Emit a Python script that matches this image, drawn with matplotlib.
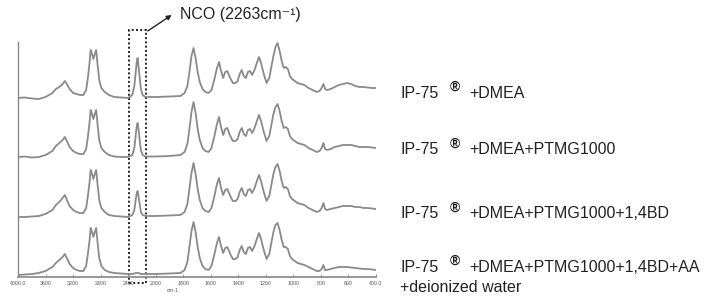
import numpy as np
import matplotlib
matplotlib.use('Agg')
import matplotlib.pyplot as plt
from matplotlib.patches import Rectangle

# wavenumbers (cm-1)
wavenumber = [4000, 3900, 3800, 3700, 3600, 3500, 3450, 3400, 3350, 3320,
              3290, 3250, 3200, 3150, 3100, 3050, 3010, 2985, 2960, 2945,
              2925, 2905, 2885, 2865, 2845, 2820, 2790, 2740, 2680, 2600,
              2500, 2400, 2340, 2310, 2290, 2275, 2263, 2250, 2235, 2215,
              2190, 2150, 2100, 2000, 1900, 1820, 1790, 1770, 1755, 1740,
              1725, 1710, 1695, 1680, 1660, 1640, 1615, 1595, 1575, 1555,
              1540, 1527, 1510, 1495, 1480, 1462, 1440, 1420, 1405, 1390,
              1375, 1360, 1345, 1330, 1315, 1300, 1285, 1265, 1250, 1235,
              1215, 1195, 1175, 1160, 1145, 1130, 1115, 1100, 1085, 1070,
              1055, 1040, 1025, 1010, 990, 970, 945, 920, 890, 860,
              830, 810, 795, 782, 770, 755, 730, 700, 670, 640,
              610, 580, 550, 520, 490, 460, 430, 400]

# absorbance of each sample (arbitrary units)
abs_dmea = [0, 0.5, -0.5, -1, 1, 5, 9, 11, 14, 17,
            14, 9, 5, 4, 3, 3, 8, 20, 36, 48,
            44, 39, 44, 48, 34, 18, 10, 6, 3, 1,
            0.5, 0, 3, 12, 26, 36, 40, 32, 22, 9,
            3, 1, 1, 1, 1.5, 2, 5, 12, 26, 42,
            50, 40, 26, 16, 9, 6, 5, 8, 18, 30,
            36, 28, 20, 26, 27, 21, 15, 15, 17, 24,
            28, 22, 20, 26, 27, 23, 27, 35, 41, 35,
            24, 15, 20, 31, 42, 51, 55, 47, 37, 30,
            31, 29, 22, 19, 17, 15, 14, 13, 10, 8,
            6, 7, 10, 14, 9, 8, 9, 11, 13, 14,
            15, 14, 12, 11, 11, 10.5, 10, 10]

abs_ptmg = [0, 0.5, -0.5, 0, 2, 6, 11, 14, 17, 20,
            16, 10, 6, 4, 3, 3, 8, 20, 35, 47,
            43, 38, 43, 47, 33, 17, 9, 5, 2, 0.5,
            0, 0, 2, 9, 22, 31, 34, 28, 18, 7,
            2, 0.5, 0.5, 0.5, 1, 2, 5, 13, 28, 45,
            55, 44, 28, 17, 9, 6, 5, 9, 20, 33,
            40, 31, 22, 28, 29, 22, 16, 16, 18, 25,
            29, 23, 21, 27, 28, 24, 28, 36, 42, 36,
            25, 16, 21, 32, 43, 50, 53, 46, 36, 29,
            30, 28, 21, 18, 16, 14, 13, 12, 9, 7,
            5, 6, 9, 14, 8, 7, 8, 10, 11, 12,
            12, 12, 11, 10, 10, 10, 9.5, 9]

abs_bd = [0, 0, 0.5, 1, 3, 7, 12, 15, 19, 22,
          17, 11, 7, 5, 4, 4, 9, 21, 35, 47,
          43, 38, 43, 47, 33, 17, 9, 5, 2, 1,
          0.5, 0, 2, 7, 17, 24, 26, 21, 14, 5,
          2, 1, 1, 1, 1.5, 2, 5, 13, 28, 44,
          54, 43, 28, 17, 9, 6, 5, 9, 20, 33,
          39, 30, 22, 27, 28, 22, 16, 16, 18, 25,
          29, 23, 21, 27, 28, 24, 28, 36, 42, 36,
          25, 16, 21, 32, 43, 50, 53, 46, 36, 29,
          30, 28, 21, 18, 16, 14, 13, 12, 9, 7,
          5, 6, 9, 14, 8, 7, 8, 9, 10, 11,
          11, 11, 10, 10, 9, 9, 8.5, 8]

abs_water = [0, 0.5, 1, 2, 4, 8, 12, 15, 18, 21,
             17, 11, 7, 5, 4, 4, 9, 21, 35, 47,
             43, 38, 43, 47, 33, 17, 9, 5, 3, 2,
             1.5, 1, 1, 1.5, 2, 2, 2, 2, 1.5, 1,
             1, 1, 1, 1, 1.5, 2, 5, 13, 28, 44,
             53, 43, 28, 17, 9, 6, 5, 9, 20, 32,
             38, 30, 22, 27, 28, 22, 16, 16, 18, 25,
             29, 23, 21, 27, 28, 24, 28, 36, 42, 36,
             25, 16, 21, 32, 43, 50, 52, 45, 35, 28,
             28, 26, 19, 16, 14, 12, 11, 10, 8, 6,
             4, 4, 6, 10, 5, 5, 6, 7, 8, 8,
             8, 7.5, 7, 6.5, 6, 6, 5.5, 5]

spectra = [abs_dmea, abs_ptmg, abs_bd, abs_water]
offsets = [177, 118, 58, 0]
labels = ['+DMEA', '+DMEA+PTMG1000', '+DMEA+PTMG1000+1,4BD',
          '+DMEA+PTMG1000+1,4BD+AA']
tick_values = [4000, 3600, 3200, 2800, 2400, 2000, 1800, 1600, 1400,
               1200, 1000, 800, 600, 400]
tick_labels = ['4000.0', '3600', '3200', '2800', '2400', '2000', '1800',
               '1600', '1400', '1200', '1000', '800', '600', '400.0']


# FTIR-style axis: half scale above 2000 cm-1
def fwd(v):
    v = np.asarray(v, dtype=float)
    return np.where(v >= 2000, (4000 - v) / 2.0, 1000 + (2000 - v))


plt.rcParams['font.family'] = ['Liberation Sans', 'DejaVu Sans']

fig = plt.figure(figsize=(7.08, 2.97), dpi=100)
ax = fig.add_axes([18 / 708, 20 / 297, 358 / 708, 235 / 297])

x = fwd(wavenumber)
for spec, off in zip(spectra, offsets):
    ax.plot(x, np.array(spec) + off, color='#8a8a8a', lw=1.3)

ax.set_xlim(0, 2600)
ax.set_ylim(-2, 233)
ax.set_xticks(fwd(tick_values))
ax.set_xticklabels(tick_labels)
ax.tick_params(axis='x', direction='in', length=2, width=0.6, colors='#888888',
               labelsize=3.8, labelcolor='#555555', pad=3)
ax.set_yticks([])
for s in ['top', 'right']:
    ax.spines[s].set_visible(False)
ax.spines['left'].set_color('#888888')
ax.spines['bottom'].set_color('#888888')
ax.spines['left'].set_linewidth(1.0)
ax.spines['bottom'].set_linewidth(1.2)
ax.text(fwd(1880), -15, 'cm-1', fontsize=3.8, color='#555555', ha='center',
        va='center', clip_on=False)

# dotted box around NCO peak
bx0, bx1 = fwd(2391), fwd(2145)
box = Rectangle((bx0, -8), bx1 - bx0, 253, fill=False, ls=(0, (1, 1.2)),
                lw=1.4, ec='#222222', clip_on=False)
ax.add_patch(box)
ax.annotate('', xy=(fwd(1884), 260), xytext=(fwd(2116), 244),
            arrowprops=dict(arrowstyle='-|>', color='#222222', lw=1.0,
                            mutation_scale=7, shrinkA=0, shrinkB=0),
            annotation_clip=False)
ax.text(fwd(1825), 260, 'NCO (2263cm\u207b\u00b9)', fontsize=11.5,
        color='#222222', ha='left', va='center', clip_on=False)

# sample labels
label_y = [93, 150, 214, 267]
for lab, py in zip(labels, label_y):
    fy = 1 - py / 297
    fig.text(400 / 708, fy, 'IP-75', fontsize=11.5, color='#222222', va='center')
    fig.text(450 / 708, fy + 6 / 297, '\u00ae', fontsize=10, fontweight='bold',
             color='#222222', va='center')
    fig.text(469 / 708, fy, lab, fontsize=11.5, color='#222222', va='center')
fig.text(400 / 708, 1 - 288 / 297, '+deionized water', fontsize=11.5,
         color='#222222', va='center')

fig.savefig('out.png', dpi=100)
